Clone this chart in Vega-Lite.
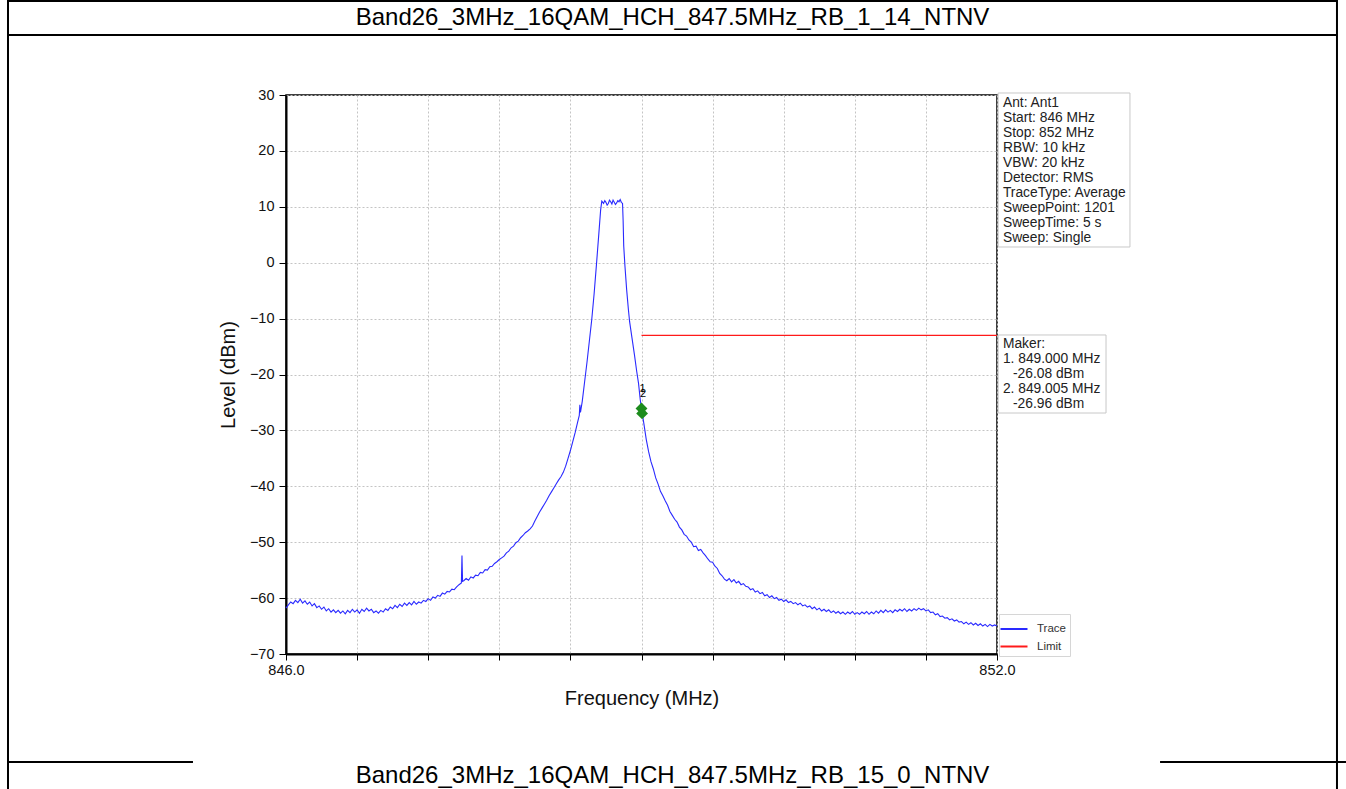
{
 "$schema": "https://vega.github.io/schema/vega-lite/v6.json",
 "width": 711, "height": 559,
 "autosize": {"type": "none"},
 "padding": {"left": 286, "top": 95, "right": 349, "bottom": 135},
 "background": "white",
 "config": {
  "font": "Liberation Sans",
  "view": {"stroke": "black", "strokeWidth": 1.5},
  "axis": {"titleFontWeight": "normal", "labelColor": "#111", "titleColor": "#111", "tickColor": "black", "domainColor": "black", "domainWidth": 2, "gridColor": "#c4c4c4", "gridDash": [2, 2], "gridWidth": 1}
 },
 "datasets": {
  "trace": [
   {"freq":846.00,"level":-61.8},{"freq":846.02,"level":-61.2},{"freq":846.04,"level":-60.7},{"freq":846.06,"level":-61.0},{"freq":846.08,"level":-60.4},{"freq":846.10,"level":-60.8},{"freq":846.12,"level":-60.2},{"freq":846.14,"level":-60.9},{"freq":846.16,"level":-60.5},{"freq":846.18,"level":-61.1},{"freq":846.20,"level":-60.7},{"freq":846.22,"level":-61.4},{"freq":846.24,"level":-61.0},{"freq":846.26,"level":-61.7},{"freq":846.28,"level":-61.4},{"freq":846.30,"level":-62.0},{"freq":846.32,"level":-61.6},{"freq":846.34,"level":-62.3},{"freq":846.36,"level":-61.9},{"freq":846.38,"level":-62.5},{"freq":846.40,"level":-62.1},{"freq":846.42,"level":-62.6},{"freq":846.44,"level":-62.2},{"freq":846.46,"level":-62.7},{"freq":846.48,"level":-62.3},{"freq":846.50,"level":-62.8},{"freq":846.52,"level":-62.2},{"freq":846.54,"level":-62.6},{"freq":846.56,"level":-62.0},{"freq":846.58,"level":-62.5},{"freq":846.60,"level":-62.1},{"freq":846.62,"level":-62.7},{"freq":846.64,"level":-62.0},{"freq":846.66,"level":-62.4},{"freq":846.68,"level":-61.8},{"freq":846.70,"level":-62.3},{"freq":846.72,"level":-62.0},{"freq":846.74,"level":-62.6},{"freq":846.76,"level":-62.3},{"freq":846.78,"level":-62.7},{"freq":846.80,"level":-62.2},{"freq":846.82,"level":-62.5},{"freq":846.84,"level":-61.9},{"freq":846.86,"level":-62.2},{"freq":846.88,"level":-61.6},{"freq":846.90,"level":-61.9},{"freq":846.92,"level":-61.3},{"freq":846.94,"level":-61.7},{"freq":846.96,"level":-61.1},{"freq":846.98,"level":-61.5},
   {"freq":847.00,"level":-60.9},{"freq":847.02,"level":-61.3},{"freq":847.04,"level":-60.8},{"freq":847.06,"level":-61.2},{"freq":847.08,"level":-60.6},{"freq":847.10,"level":-61.1},{"freq":847.12,"level":-60.7},{"freq":847.14,"level":-60.9},{"freq":847.16,"level":-60.4},{"freq":847.18,"level":-60.6},{"freq":847.20,"level":-60.1},{"freq":847.22,"level":-60.4},{"freq":847.24,"level":-59.8},{"freq":847.26,"level":-60.0},{"freq":847.28,"level":-59.5},{"freq":847.30,"level":-59.7},{"freq":847.32,"level":-59.1},{"freq":847.34,"level":-59.3},{"freq":847.36,"level":-58.8},{"freq":847.38,"level":-58.9},{"freq":847.40,"level":-58.4},{"freq":847.42,"level":-58.5},{"freq":847.44,"level":-58.0},{"freq":847.46,"level":-57.6},{"freq":847.48,"level":-57.3},{"freq":847.485,"level":-52.4},{"freq":847.49,"level":-57.0},{"freq":847.50,"level":-56.9},{"freq":847.52,"level":-56.5},{"freq":847.54,"level":-56.8},{"freq":847.56,"level":-56.2},{"freq":847.58,"level":-56.4},{"freq":847.60,"level":-55.9},{"freq":847.62,"level":-56.0},{"freq":847.64,"level":-55.4},{"freq":847.66,"level":-55.5},{"freq":847.68,"level":-54.9},{"freq":847.70,"level":-55.0},{"freq":847.72,"level":-54.4},{"freq":847.74,"level":-54.3},{"freq":847.76,"level":-53.8},{"freq":847.78,"level":-53.5},{"freq":847.80,"level":-53.1},{"freq":847.82,"level":-52.8},{"freq":847.84,"level":-52.5},{"freq":847.86,"level":-51.9},{"freq":847.88,"level":-51.6},{"freq":847.90,"level":-51.0},{"freq":847.92,"level":-50.7},{"freq":847.94,"level":-50.1},{"freq":847.96,"level":-49.8},{"freq":847.98,"level":-49.2},
   {"freq":848.00,"level":-48.8},{"freq":848.02,"level":-48.3},{"freq":848.04,"level":-48.0},{"freq":848.06,"level":-47.6},{"freq":848.08,"level":-47.1},{"freq":848.10,"level":-46.2},{"freq":848.12,"level":-45.4},{"freq":848.14,"level":-44.6},{"freq":848.16,"level":-43.9},{"freq":848.18,"level":-43.2},{"freq":848.20,"level":-42.5},{"freq":848.22,"level":-41.7},{"freq":848.24,"level":-41.0},{"freq":848.26,"level":-40.3},{"freq":848.28,"level":-39.6},{"freq":848.30,"level":-38.9},{"freq":848.32,"level":-38.3},{"freq":848.34,"level":-37.5},{"freq":848.36,"level":-36.4},{"freq":848.38,"level":-35.0},{"freq":848.40,"level":-33.6},{"freq":848.42,"level":-32.0},{"freq":848.44,"level":-30.4},{"freq":848.46,"level":-28.6},{"freq":848.475,"level":-27.3},{"freq":848.48,"level":-25.4},{"freq":848.485,"level":-26.8},{"freq":848.50,"level":-24.8},{"freq":848.52,"level":-21.3},{"freq":848.54,"level":-17.8},{"freq":848.56,"level":-14.0},{"freq":848.58,"level":-10.2},{"freq":848.60,"level":-5.6},{"freq":848.62,"level":-0.3},{"freq":848.64,"level":5.2},{"freq":848.655,"level":9.4},{"freq":848.665,"level":11.0},{"freq":848.68,"level":10.6},{"freq":848.69,"level":11.1},{"freq":848.70,"level":10.8},{"freq":848.71,"level":10.3},{"freq":848.72,"level":10.6},{"freq":848.73,"level":11.2},{"freq":848.74,"level":10.9},{"freq":848.75,"level":10.5},{"freq":848.76,"level":11.2},{"freq":848.77,"level":10.8},{"freq":848.78,"level":10.4},{"freq":848.79,"level":10.7},{"freq":848.80,"level":11.1},{"freq":848.81,"level":10.9},{"freq":848.82,"level":11.3},{"freq":848.83,"level":10.8},{"freq":848.84,"level":10.6},{"freq":848.845,"level":7.5},{"freq":848.85,"level":3.0},{"freq":848.86,"level":-0.5},{"freq":848.875,"level":-4.9},{"freq":848.89,"level":-8.5},{"freq":848.90,"level":-10.6},{"freq":848.92,"level":-13.5},{"freq":848.94,"level":-16.4},{"freq":848.96,"level":-19.5},{"freq":848.975,"level":-21.6},{"freq":848.99,"level":-24.6},
   {"freq":849.00,"level":-26.1},{"freq":849.01,"level":-27.4},{"freq":849.02,"level":-28.8},{"freq":849.04,"level":-31.6},{"freq":849.06,"level":-33.8},{"freq":849.08,"level":-35.6},{"freq":849.10,"level":-36.9},{"freq":849.12,"level":-38.5},{"freq":849.14,"level":-39.6},{"freq":849.16,"level":-40.9},{"freq":849.18,"level":-41.7},{"freq":849.20,"level":-42.6},{"freq":849.22,"level":-43.4},{"freq":849.24,"level":-44.5},{"freq":849.26,"level":-45.2},{"freq":849.28,"level":-45.9},{"freq":849.30,"level":-46.4},{"freq":849.32,"level":-47.3},{"freq":849.34,"level":-47.8},{"freq":849.36,"level":-48.6},{"freq":849.38,"level":-48.9},{"freq":849.40,"level":-49.6},{"freq":849.42,"level":-50.0},{"freq":849.44,"level":-50.8},{"freq":849.46,"level":-50.7},{"freq":849.48,"level":-51.5},{"freq":849.50,"level":-51.3},{"freq":849.52,"level":-51.9},{"freq":849.54,"level":-52.4},{"freq":849.56,"level":-53.0},{"freq":849.58,"level":-53.5},{"freq":849.60,"level":-53.6},{"freq":849.62,"level":-54.3},{"freq":849.64,"level":-54.7},{"freq":849.66,"level":-55.6},{"freq":849.68,"level":-56.0},{"freq":849.70,"level":-56.6},{"freq":849.72,"level":-56.9},{"freq":849.74,"level":-56.5},{"freq":849.76,"level":-57.1},{"freq":849.78,"level":-56.7},{"freq":849.80,"level":-57.3},{"freq":849.82,"level":-57.0},{"freq":849.84,"level":-57.6},{"freq":849.86,"level":-57.4},{"freq":849.88,"level":-57.9},{"freq":849.90,"level":-58.0},{"freq":849.92,"level":-58.5},{"freq":849.94,"level":-58.3},{"freq":849.96,"level":-58.9},{"freq":849.98,"level":-58.7},
   {"freq":850.00,"level":-59.2},{"freq":850.02,"level":-59.0},{"freq":850.04,"level":-59.6},{"freq":850.06,"level":-59.4},{"freq":850.08,"level":-59.9},{"freq":850.10,"level":-59.6},{"freq":850.12,"level":-60.1},{"freq":850.14,"level":-59.9},{"freq":850.16,"level":-60.4},{"freq":850.18,"level":-60.2},{"freq":850.20,"level":-60.6},{"freq":850.22,"level":-60.3},{"freq":850.24,"level":-60.8},{"freq":850.26,"level":-60.6},{"freq":850.28,"level":-61.0},{"freq":850.30,"level":-60.8},{"freq":850.32,"level":-61.2},{"freq":850.34,"level":-60.9},{"freq":850.36,"level":-61.4},{"freq":850.38,"level":-61.2},{"freq":850.40,"level":-61.6},{"freq":850.42,"level":-61.4},{"freq":850.44,"level":-61.9},{"freq":850.46,"level":-61.6},{"freq":850.48,"level":-62.1},{"freq":850.50,"level":-61.8},{"freq":850.52,"level":-62.3},{"freq":850.54,"level":-62.0},{"freq":850.56,"level":-62.4},{"freq":850.58,"level":-62.1},{"freq":850.60,"level":-62.6},{"freq":850.62,"level":-62.3},{"freq":850.64,"level":-62.7},{"freq":850.66,"level":-62.4},{"freq":850.68,"level":-62.8},{"freq":850.70,"level":-62.5},{"freq":850.72,"level":-62.9},{"freq":850.74,"level":-62.5},{"freq":850.76,"level":-62.8},{"freq":850.78,"level":-62.4},{"freq":850.80,"level":-62.9},{"freq":850.82,"level":-62.6},{"freq":850.84,"level":-62.9},{"freq":850.86,"level":-62.5},{"freq":850.88,"level":-62.8},{"freq":850.90,"level":-62.4},{"freq":850.92,"level":-62.9},{"freq":850.94,"level":-62.5},{"freq":850.96,"level":-62.8},{"freq":850.98,"level":-62.3},
   {"freq":851.00,"level":-62.7},{"freq":851.02,"level":-62.2},{"freq":851.04,"level":-62.6},{"freq":851.06,"level":-62.1},{"freq":851.08,"level":-62.5},{"freq":851.10,"level":-62.2},{"freq":851.12,"level":-62.6},{"freq":851.14,"level":-62.1},{"freq":851.16,"level":-62.4},{"freq":851.18,"level":-62.0},{"freq":851.20,"level":-62.3},{"freq":851.22,"level":-61.9},{"freq":851.24,"level":-62.4},{"freq":851.26,"level":-62.0},{"freq":851.28,"level":-62.3},{"freq":851.30,"level":-61.9},{"freq":851.32,"level":-62.2},{"freq":851.34,"level":-61.8},{"freq":851.36,"level":-62.1},{"freq":851.38,"level":-61.9},{"freq":851.40,"level":-62.3},{"freq":851.42,"level":-62.1},{"freq":851.44,"level":-62.6},{"freq":851.46,"level":-62.5},{"freq":851.48,"level":-63.0},{"freq":851.50,"level":-62.8},{"freq":851.52,"level":-63.3},{"freq":851.54,"level":-63.2},{"freq":851.56,"level":-63.6},{"freq":851.58,"level":-63.5},{"freq":851.60,"level":-63.9},{"freq":851.62,"level":-63.7},{"freq":851.64,"level":-64.1},{"freq":851.66,"level":-63.9},{"freq":851.68,"level":-64.3},{"freq":851.70,"level":-64.2},{"freq":851.72,"level":-64.6},{"freq":851.74,"level":-64.3},{"freq":851.76,"level":-64.7},{"freq":851.78,"level":-64.4},{"freq":851.80,"level":-64.8},{"freq":851.82,"level":-64.5},{"freq":851.84,"level":-64.9},{"freq":851.86,"level":-64.6},{"freq":851.88,"level":-65.0},{"freq":851.90,"level":-64.7},{"freq":851.92,"level":-65.1},{"freq":851.94,"level":-64.7},{"freq":851.96,"level":-65.0},{"freq":851.98,"level":-64.8},{"freq":852.00,"level":-65.0}
  ],
  "limit": [{"freq": 849.0, "level": -13}, {"freq": 852.0, "level": -13}],
  "markers": [{"id": "1", "freq": 849.000, "level": -26.08}, {"id": "2", "freq": 849.005, "level": -26.96}],
  "info": [{"text": "Ant: Ant1\nStart: 846 MHz\nStop: 852 MHz\nRBW: 10 kHz\nVBW: 20 kHz\nDetector: RMS\nTraceType: Average\nSweepPoint: 1201\nSweepTime: 5 s\nSweep: Single"}],
  "makerHead": [{"text": "Maker:\n1. 849.000 MHz"}],
  "maker1Level": [{"text": "-26.08 dBm"}],
  "maker2Freq": [{"text": "2. 849.005 MHz"}],
  "maker2Level": [{"text": "-26.96 dBm"}],
  "title1": [{"text": "Band26_3MHz_16QAM_HCH_847.5MHz_RB_1_14_NTNV"}],
  "title2": [{"text": "Band26_3MHz_16QAM_HCH_847.5MHz_RB_15_0_NTNV"}],
  "one": [{"k": 1}]
 },
 "layer": [
  {"data": {"name": "one"}, "mark": {"type": "rect", "fillOpacity": 0, "stroke": "black", "strokeWidth": 2},
   "encoding": {"x": {"datum": 843.654, "type": "quantitative"}, "x2": {"datum": 854.869}, "y": {"datum": 46.82, "type": "quantitative"}, "y2": {"datum": -100}}},
  {"data": {"name": "one"}, "mark": {"type": "rule", "color": "black", "strokeWidth": 2},
   "encoding": {"x": {"datum": 843.654, "type": "quantitative"}, "x2": {"datum": 854.869}, "y": {"datum": 40.73, "type": "quantitative"}}},
  {"data": {"name": "one"}, "mark": {"type": "rule", "color": "black", "strokeWidth": 2},
   "encoding": {"x": {"datum": 843.654, "type": "quantitative"}, "x2": {"datum": 845.215}, "y": {"datum": -89.32, "type": "quantitative"}}},
  {"data": {"name": "one"}, "mark": {"type": "rule", "color": "black", "strokeWidth": 2},
   "encoding": {"x": {"datum": 853.376, "type": "quantitative"}, "x2": {"datum": 854.945}, "y": {"datum": -89.32, "type": "quantitative"}}},
  {"data": {"name": "title1"}, "mark": {"type": "text", "fontSize": 24, "align": "center", "baseline": "middle", "color": "black"},
   "encoding": {"x": {"datum": 849.262, "type": "quantitative"}, "y": {"datum": 43.77, "type": "quantitative"}, "text": {"field": "text"}}},
  {"data": {"name": "title2"}, "mark": {"type": "text", "fontSize": 24, "align": "center", "baseline": "middle", "color": "black"},
   "encoding": {"x": {"datum": 849.262, "type": "quantitative"}, "y": {"datum": -91.82, "type": "quantitative"}, "text": {"field": "text"}}},
  {"data": {"name": "trace"}, "mark": {"type": "line", "strokeWidth": 1.1, "interpolate": "linear"},
   "encoding": {
    "x": {"field": "freq", "type": "quantitative", "scale": {"domain": [846, 852], "nice": false, "zero": false},
      "axis": {"title": "Frequency (MHz)", "values": [846, 846.6, 847.2, 847.8, 848.4, 849, 849.6, 850.2, 850.8, 851.4, 852], "labelExpr": "datum.value == 846 || datum.value == 852 ? format(datum.value, '.1f') : ''", "labelFlush": false, "labelOverlap": false, "tickSize": 6, "labelPadding": 3, "labelFontSize": 14.5, "titleFontSize": 20, "titlePadding": 12, "grid": true}},
    "y": {"field": "level", "type": "quantitative", "scale": {"domain": [-70, 30], "nice": false, "zero": false},
      "axis": {"title": "Level (dBm)", "values": [-70, -60, -50, -40, -30, -20, -10, 0, 10, 20, 30], "tickSize": 7, "labelPadding": 5, "labelFontSize": 14.5, "titleFontSize": 20, "titlePadding": 11, "grid": true}},
    "color": {"datum": "Trace", "type": "nominal", "scale": {"domain": ["Trace", "Limit"], "range": ["#2a2aff", "#ff1a1a"]},
      "legend": {"title": null, "orient": "none", "legendX": 713, "legendY": 519, "symbolType": "M-1.35,0L1.35,0", "symbolStrokeWidth": 2, "symbolSize": 400, "labelFontSize": 11.5, "labelColor": "#333", "padding": 4, "strokeColor": "#d6d6d6", "fillColor": "white", "rowPadding": 0.5, "labelOffset": 12}}
   }},
  {"data": {"name": "limit"}, "mark": {"type": "line", "strokeWidth": 1.2},
   "encoding": {"x": {"field": "freq", "type": "quantitative"}, "y": {"field": "level", "type": "quantitative"}, "color": {"datum": "Limit", "type": "nominal"}}},
  {"data": {"name": "markers"}, "mark": {"type": "point", "shape": "diamond", "filled": true, "size": 140, "color": "#1d8c1d", "opacity": 1},
   "encoding": {"x": {"field": "freq", "type": "quantitative"}, "y": {"field": "level", "type": "quantitative"}}},
  {"data": {"name": "markers"}, "mark": {"type": "text", "fontSize": 11, "color": "black", "dy": -19, "dx": 1},
   "encoding": {"x": {"field": "freq", "type": "quantitative"}, "y": {"field": "level", "type": "quantitative"}, "text": {"field": "id"}}},
  {"data": {"name": "one"}, "mark": {"type": "rect", "fill": "white", "stroke": "#c8c8c8", "strokeWidth": 1},
   "encoding": {"x": {"datum": 852.01, "type": "quantitative"}, "x2": {"datum": 853.122}, "y": {"datum": 30.36, "type": "quantitative"}, "y2": {"datum": 2.81}}},
  {"data": {"name": "info"}, "mark": {"type": "text", "align": "left", "baseline": "top", "fontSize": 13.8, "lineHeight": 15, "lineBreak": "\n", "color": "#222"},
   "encoding": {"x": {"datum": 852.05, "type": "quantitative"}, "y": {"datum": 29.82, "type": "quantitative"}, "text": {"field": "text"}}},
  {"data": {"name": "one"}, "mark": {"type": "rect", "fill": "white", "stroke": "#c8c8c8", "strokeWidth": 1},
   "encoding": {"x": {"datum": 852.01, "type": "quantitative"}, "x2": {"datum": 852.92}, "y": {"datum": -12.93, "type": "quantitative"}, "y2": {"datum": -26.89}}},
  {"data": {"name": "makerHead"}, "mark": {"type": "text", "align": "left", "baseline": "top", "fontSize": 13.8, "lineHeight": 15, "lineBreak": "\n", "color": "#222"},
   "encoding": {"x": {"datum": 852.05, "type": "quantitative"}, "y": {"datum": -13.29, "type": "quantitative"}, "text": {"field": "text"}}},
  {"data": {"name": "maker1Level"}, "mark": {"type": "text", "align": "left", "baseline": "top", "fontSize": 13.8, "color": "#222"},
   "encoding": {"x": {"datum": 852.135, "type": "quantitative"}, "y": {"datum": -18.66, "type": "quantitative"}, "text": {"field": "text"}}},
  {"data": {"name": "maker2Freq"}, "mark": {"type": "text", "align": "left", "baseline": "top", "fontSize": 13.8, "color": "#222"},
   "encoding": {"x": {"datum": 852.05, "type": "quantitative"}, "y": {"datum": -21.34, "type": "quantitative"}, "text": {"field": "text"}}},
  {"data": {"name": "maker2Level"}, "mark": {"type": "text", "align": "left", "baseline": "top", "fontSize": 13.8, "color": "#222"},
   "encoding": {"x": {"datum": 852.135, "type": "quantitative"}, "y": {"datum": -24.03, "type": "quantitative"}, "text": {"field": "text"}}}
 ]
}
